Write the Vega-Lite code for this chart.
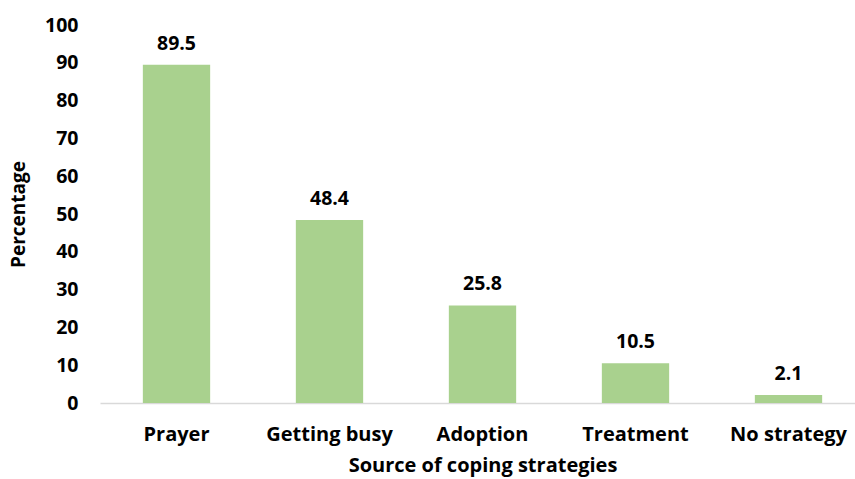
{
  "$schema": "https://vega.github.io/schema/vega-lite/v6.json",
  "autosize": {"type": "none"},
  "padding": {"left": 100, "top": 25, "right": 0, "bottom": 76},
  "width": 765,
  "height": 378,
  "background": "white",
  "config": {"view": {"stroke": null}, "font": "Open Sans"},
  "data": {"values": [
    {"source": "Prayer", "pct": 89.5},
    {"source": "Getting busy", "pct": 48.4},
    {"source": "Adoption", "pct": 25.8},
    {"source": "Treatment", "pct": 10.5},
    {"source": "No strategy", "pct": 2.1}
  ]},
  "encoding": {
    "x": {"field": "source", "type": "nominal", "sort": null,
      "scale": {"paddingInner": 0.56, "paddingOuter": 0.28},
      "axis": {"title": "Source of coping strategies", "labelAngle": 0, "ticks": false,
        "domainColor": "#d9d9d9", "domainWidth": 1.5, "labelFontSize": 20, "labelFontWeight": "bold",
        "labelColor": "#000", "labelPadding": 21, "titleFontSize": 20, "titleFontWeight": "bold",
        "titleColor": "#000", "titlePadding": 11}},
    "y": {"field": "pct", "type": "quantitative",
      "scale": {"domain": [0, 100], "nice": false},
      "axis": {"title": "Percentage", "values": [0,10,20,30,40,50,60,70,80,90,100], "grid": false,
        "domain": false, "ticks": false, "labelFontSize": 19.5, "labelFontWeight": "bold",
        "labelColor": "#000", "labelPadding": 22, "titleFontSize": 19, "titleFontWeight": "bold",
        "titleColor": "#000", "titlePadding": 16}}
  },
  "layer": [
    {"mark": {"type": "bar", "color": "#a9d18e"}},
    {"mark": {"type": "text", "dy": -21, "fontSize": 19.5, "fontWeight": "bold", "color": "#000"},
      "encoding": {"text": {"field": "pct", "type": "quantitative", "format": ".1f"}}}
  ]
}
